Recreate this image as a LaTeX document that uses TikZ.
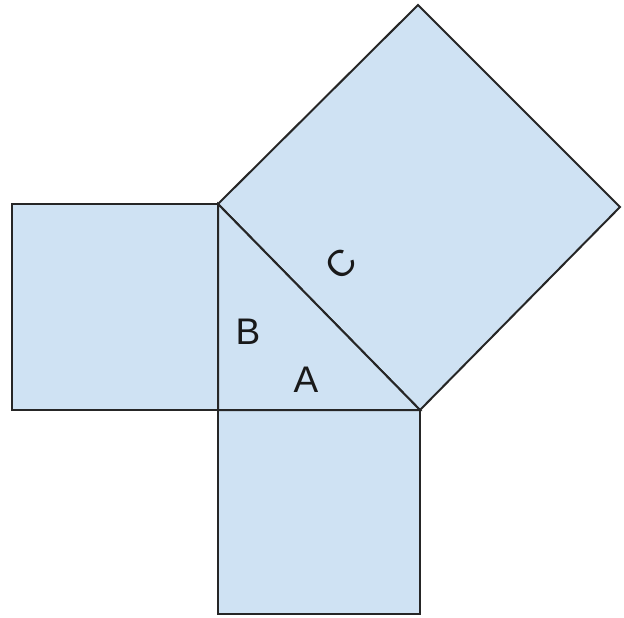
\documentclass[tikz,border=0pt]{standalone}
\usepackage{fontspec}
\setmainfont{Liberation Sans}
\begin{document}
\begin{tikzpicture}[x=1pt,y=-1pt,
  sq/.style={draw=black!85,line width=2pt,line join=miter},
  lbl/.style={font=\fontsize{37}{37}\selectfont,text=black!90,inner sep=0pt}]
\definecolor{sqfill}{HTML}{CFE2F3}
\useasboundingbox (0,0) rectangle (624,618);
\coordinate (p1) at (218,204);
\coordinate (p2) at (218,410);
\coordinate (p3) at (420,410);
\coordinate (h1) at (620,207);
\coordinate (h2) at (418,5);
\coordinate (l1) at (12,204);
\coordinate (l2) at (12,410);
\coordinate (b1) at (218,614);
\coordinate (b2) at (420,614);
\path[sq,fill=sqfill] (p1) -- (l1) -- (l2) -- (p2) -- cycle;
\path[sq,fill=sqfill] (p2) -- (b1) -- (b2) -- (p3) -- cycle;
\path[sq,fill=sqfill] (p1) -- (p3) -- (h1) -- (h2) -- cycle;
\path[sq,fill=sqfill] (p1) -- (p2) -- (p3) -- cycle;
\node[lbl,rotate=45] (C) at (341,264) {C};
\node[lbl] (B) at (248,332) {B};
\node[lbl] (A) at (306,380) {A};
\end{tikzpicture}
\end{document}
